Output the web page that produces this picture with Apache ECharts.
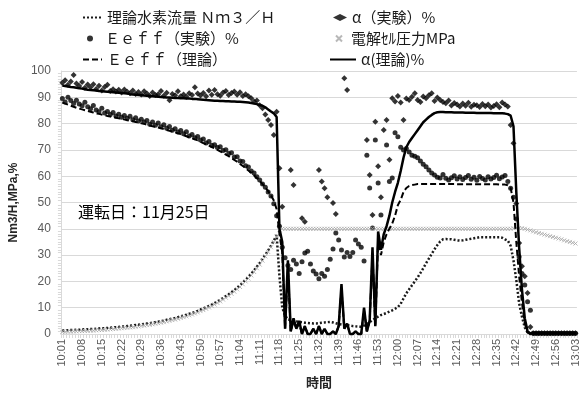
<!DOCTYPE html>
<html><head><meta charset="utf-8">
<script src="https://cdn.jsdelivr.net/npm/echarts@6/dist/echarts.min.js"></script>
<style>html,body{margin:0;padding:0;background:#fff}#c{width:581px;height:394px}</style>
</head><body><div id="c"></div>
<script>
// Time axis: one sample per minute from 10:01 to 13:03
const startTime = '10:01';
const sampleCount = 183;
const yTicks = [0,10,20,30,40,50,60,70,80,90,100];

const flowTheory = [
1.3,1.4,1.4,1.5,1.5,1.6,1.6,1.7,1.8,1.8,
1.9,1.9,2.0,2.1,2.2,2.2,2.3,2.4,2.5,2.6,
2.7,2.8,2.9,3.0,3.1,3.3,3.4,3.5,3.7,3.8,
4.0,4.1,4.3,4.5,4.7,4.9,5.1,5.4,5.6,5.9,
6.1,6.4,6.7,7.0,7.3,7.7,8.0,8.4,8.8,9.3,
9.7,10.2,10.7,11.2,11.8,12.4,13.0,13.7,14.4,15.1,
15.9,16.7,17.6,18.5,19.5,20.6,21.7,22.9,24.2,25.6,
27.0,28.5,30.1,31.8,33.6,35.5,37.6,22.0,10.0,7.0,
5.5,5.3,5.0,4.8,4.6,4.5,4.3,4.2,4.1,4.0,
4.0,4.1,4.3,4.4,4.5,4.6,4.4,4.1,3.8,3.6,
3.4,3.4,3.2,3.0,2.9,2.8,2.8,3.2,3.8,4.5,
5.3,6.0,6.6,7.2,7.6,8.0,8.5,9.0,9.6,10.2,
11.5,13.5,15.5,17.0,18.5,20.0,21.5,23.2,25.0,26.9,
28.7,30.5,32.2,33.8,35.2,36.0,36.1,36.0,36.0,35.8,
35.6,35.5,35.6,35.8,36.0,36.2,36.4,36.6,36.8,36.8,
36.8,36.8,36.8,36.8,36.8,36.8,36.6,36.0,35.5,33.5,
28.0,20.5,11.7,6.6,2.5,0.5,0,0,0,0,
0,0,0,0,0,0,0,0,0,0,
0,0,0];

const pressure = [
0.8,0.8,0.9,0.9,1.0,1.0,1.1,1.1,1.2,1.2,
1.3,1.3,1.4,1.5,1.5,1.6,1.7,1.8,1.9,2.0,
2.1,2.2,2.3,2.4,2.5,2.6,2.8,2.9,3.1,3.2,
3.4,3.5,3.7,3.9,4.1,4.3,4.5,4.8,5.0,5.3,
5.5,5.8,6.1,6.4,6.7,7.1,7.4,7.8,8.2,8.7,
9.1,9.6,10.1,10.6,11.2,11.8,12.4,13.1,13.8,14.5,
15.3,16.1,17.0,17.9,18.9,20.0,21.1,22.3,23.6,25.0,
26.4,27.9,29.5,31.2,33.0,35.0,37.2,39.5,40,40,
40,40,40,40,40,40,40,40,40,40,
40,40,40,40,40,40,40,40,40,40,
40,40,40,40,40,40,40,40,40,40,
40,40,40,40,40,40,40,40,40,40,
40,40,40,40,40,40,40,40,40,40,
40,40,40,40,40,40,40,40,40,40,
40,40,40,40,40,40,40,40,40,40,
40,40,40,40,40,40,40,40,40,40,
40.2,40.3,40.3,40.2,40.0,39.7,39.4,39.0,38.7,38.4,
38.1,37.8,37.5,37.2,36.9,36.6,36.3,36.0,35.6,35.3,
35.0,34.7,34.4];

const alphaTheory = [
94.5,94.3,94.1,93.9,93.8,93.6,93.4,93.3,93.1,92.9,
92.8,92.7,92.6,92.4,92.3,92.2,92.1,92.0,91.9,91.8,
91.7,91.6,91.5,91.4,91.2,91.1,91.0,90.9,90.8,90.7,
90.6,90.5,90.4,90.3,90.2,90.1,90.0,89.9,89.9,89.8,
89.7,89.7,89.6,89.6,89.5,89.5,89.4,89.4,89.3,89.2,
89.1,89.0,88.9,88.8,88.7,88.7,88.6,88.6,88.5,88.5,
88.4,88.4,88.3,88.3,88.2,88.1,88.0,87.8,87.6,87.4,
87.1,86.8,86.2,85.4,84.6,83.9,82.5,40.0,35.0,2.0,
28.0,1.0,6.0,2.0,5.0,0.0,3.0,0.0,0.0,2.0,
0.0,3.0,0.0,2.0,0.0,0.0,1.0,0.0,3.0,19.0,
2.0,4.0,0.0,0.0,1.0,0.0,0.0,10.0,1.0,5.0,
33.0,3.0,39.0,32.0,38.0,41.0,45.0,50.0,54.0,57.5,
62.0,67.0,71.0,73.0,74.5,76.0,77.5,79.0,80.5,81.5,
82.5,83.3,84.0,84.3,84.4,84.4,84.3,84.3,84.3,84.2,
84.2,84.2,84.2,84.1,84.1,84.1,84.1,84.0,84.0,84.0,
84.0,84.0,84.0,83.9,83.9,83.9,83.9,83.8,83.6,83.0,
79.0,54.0,33.0,17.0,6.0,1.0,0.2,0.2,0.2,0.2,
0.2,0.2,0.2,0.2,0.2,0.2,0.2,0.2,0.2,0.2,
0.2,0.2,0.2];

const eeffTheory = [
88.0,87.6,87.2,86.8,86.4,86.0,85.7,85.4,85.1,84.8,
84.5,84.2,83.9,83.7,83.4,83.2,82.9,82.7,82.5,82.2,
82.0,81.8,81.6,81.3,81.1,80.9,80.6,80.4,80.1,79.9,
79.6,79.3,79.0,78.8,78.5,78.2,77.9,77.6,77.3,77.0,
76.7,76.3,76.0,75.6,75.2,74.8,74.4,74.0,73.6,73.1,
72.6,72.1,71.6,71.1,70.6,70.0,69.4,68.8,68.2,67.6,
66.9,66.2,65.5,64.7,63.9,63.1,62.2,61.3,60.3,59.3,
58.2,57.0,55.7,54.3,52.7,50.8,47.5,38.0,31.0,2.0,
25.0,1.0,5.0,2.0,4.0,0.0,3.0,0.0,0.0,2.0,
0.0,3.0,0.0,2.0,0.0,0.0,1.0,0.0,3.0,17.0,
2.0,4.0,0.0,0.0,1.0,0.0,0.0,9.0,1.0,5.0,
30.0,3.0,36.0,30.0,35.0,38.0,40.0,42.0,45.0,49.0,
51.0,54.0,55.5,56.3,56.6,56.8,57.0,57.0,57.0,57.0,
57.0,57.0,57.0,57.0,57.0,57.0,57.0,57.0,57.0,57.0,
56.9,56.9,56.9,56.9,56.9,56.9,56.9,56.9,56.9,56.9,
56.9,56.9,56.9,56.9,56.9,56.8,56.8,56.8,56.6,55.5,
50.0,35.0,22.0,12.0,4.0,0.5,0.2,0.2,0.2,0.2,
0.2,0.2,0.2,0.2,0.2,0.2,0.2,0.2,0.2,0.2,
0.2,0.2,0.2];

const alphaExp = [
95.5,96.5,94.8,96.0,98.5,95.2,94.3,95.8,93.6,94.9,
93.8,95.0,93.2,94.4,92.6,93.9,94.8,92.4,93.1,92.2,
92.9,91.8,93.0,92.1,91.5,92.6,91.3,92.0,91.1,92.3,
91.4,90.5,91.8,90.9,91.2,92.4,90.6,91.7,88.9,91.3,
90.8,92.3,90.4,91.1,90.2,91.5,90.9,93.8,91.4,90.7,
91.6,90.4,92.6,91.0,92.8,91.2,90.6,91.8,92.4,90.9,
91.6,92.2,91.0,91.9,90.5,91.2,90.4,89.6,88.4,88.8,
87.0,85.8,83.5,81.4,79.5,75.7,84.5,63.0,48.4,null,
null,62.4,56.7,null,null,44.0,42.7,null,null,null,
null,62.4,58.0,55.4,52.0,null,49.8,45.6,null,null,
97.2,92.8,null,null,null,null,null,null,73.8,60.5,
45.2,80.7,63.8,52.0,77.6,81.4,66.3,89.6,88.4,90.5,
88.0,81.4,89.5,89.0,90.2,91.5,89.0,88.2,90.3,89.6,
90.8,91.5,88.6,89.9,89.0,88.2,87.7,88.8,86.9,87.8,
87.3,86.5,87.6,86.8,87.9,86.4,87.2,87.0,86.3,87.5,
86.6,87.3,86.1,86.7,87.4,86.2,88.0,87.3,86.5,79.5,
72.5,49.6,34.6,25.8,22.0,15.6,2.7,0.3,0.3,0.3,
0.3,0.3,0.3,0.3,0.3,0.3,0.3,0.3,0.3,0.3,
0.3,0.3,0.3];

const eeffExp = [
89.5,88.2,90.0,88.8,87.6,88.9,87.5,86.8,88.1,86.4,
85.6,86.9,85.2,84.5,85.8,84.0,84.6,83.5,84.2,82.9,
83.6,82.4,83.1,82.0,82.8,81.5,82.2,81.0,81.7,80.6,
81.2,79.8,80.6,79.4,80.2,78.8,79.6,78.2,78.9,77.5,
78.0,76.8,77.4,76.1,76.9,75.3,75.9,74.6,75.1,73.8,
74.1,72.6,73.2,71.8,72.0,70.9,71.2,69.8,70.1,68.6,
68.9,67.3,67.4,65.8,65.6,64.0,63.5,62.0,61.2,59.8,
58.6,57.0,55.8,54.0,52.5,49.5,45.0,41.0,33.0,29.0,
26.0,24.5,28.0,26.6,23.0,27.5,30.8,31.5,26.6,24.0,
22.8,21.0,23.0,22.0,24.5,28.4,32.3,38.4,35.7,31.9,
29.3,31.0,29.5,31.0,35.7,34.2,33.0,27.8,68.0,55.5,
40.3,73.8,57.4,45.2,null,71.9,58.0,59.3,76.5,75.0,
71.0,70.0,70.5,69.2,68.0,67.6,67.0,65.8,64.5,63.6,
62.4,61.2,60.5,59.6,59.3,60.6,59.2,58.6,59.4,60.2,
58.9,59.8,58.7,59.5,60.3,58.8,59.6,58.5,59.9,59.1,
58.6,59.8,58.9,59.5,60.4,59.0,59.7,60.3,58.0,55.4,
52.0,43.7,29.4,23.0,18.6,12.3,9.0,0.3,0.3,0.3,
0.3,0.3,0.3,0.3,0.3,0.3,0.3,0.3,0.3,0.3,
0.3,0.3,0.3];

const names = {
  flow: '理論水素流量 Ｎｍ３／Ｈ',
  alphaExp: 'α（実験）%',
  eeffExp: 'Ｅｅｆｆ（実験）%',
  pressure: '電解ｾﾙ圧力MPa',
  eeffTheory: 'Ｅｅｆｆ（理論）',
  alphaTheory: 'α(理論)%'
};

// build category labels (time of day)
const categories = [];
(function(){
  const [h0, m0] = startTime.split(':').map(Number);
  for (let k = 0; k < sampleCount; k++) {
    const t = h0 * 60 + m0 + k;
    const h = Math.floor(t / 60), m = t % 60;
    categories.push(h + ':' + (m < 10 ? '0' : '') + m);
  }
})();

const JP = "'Noto Sans CJK JP', 'Noto Sans', sans-serif";
const NUM = "'Liberation Sans', 'Noto Sans', sans-serif";
function lg(name, left, top, w, h, isLine) {
  const o = { data: [name], left: left, top: top, itemWidth: w, itemHeight: h, padding: 0,
    selectedMode: false, textStyle: { fontSize: 15, color: '#1a1a1a', fontFamily: JP } };
  if (isLine) o.itemStyle = { opacity: 0 };
  return o;
}

const chart = echarts.init(document.getElementById('c'), null, { renderer: 'canvas' });
chart.setOption({
  animation: false,
  backgroundColor: '#fff',
  grid: { left: 58, right: 3, top: 71, bottom: 60, containLabel: false },
  legend: [
    lg(names.flow, 82, 10, 19, 10, true),
    lg(names.alphaExp, 333, 10, 14, 7),
    lg(names.eeffExp, 87, 31, 20, 6),
    lg(names.pressure, 335, 31, 14, 6),
    lg(names.eeffTheory, 82, 52, 19, 10, true),
    lg(names.alphaTheory, 329, 52, 26, 10, true)
  ],
  xAxis: {
    type: 'category', data: categories, boundaryGap: true,
    name: '時間', nameLocation: 'middle', nameGap: 42,
    nameTextStyle: { fontSize: 13, fontWeight: 'bold', color: '#262626', fontFamily: JP },
    axisLine: { lineStyle: { color: '#d9d9d9' } },
    axisTick: { show: true, interval: 0, length: 4, lineStyle: { color: '#d9d9d9' } },
    axisLabel: { interval: 6, rotate: 90, fontSize: 11, color: '#595959', fontFamily: NUM, margin: 5 },
    splitLine: { show: false }
  },
  yAxis: {
    type: 'value', min: yTicks[0], max: yTicks[yTicks.length - 1], interval: 10,
    name: 'Nm3/H,MPa,%', nameLocation: 'middle', nameGap: 38, nameRotate: 90,
    nameTextStyle: { fontSize: 12, fontWeight: 'bold', color: '#262626', fontFamily: NUM },
    axisLine: { show: true, lineStyle: { color: '#d9d9d9' } },
    axisTick: { show: false },
    minorTick: { show: true, splitNumber: 10, length: 3, lineStyle: { color: '#d9d9d9' } },
    axisLabel: { fontSize: 12, color: '#595959', fontFamily: NUM, margin: 10 },
    splitLine: { lineStyle: { color: '#d9d9d9', width: 1 } }
  },
  graphic: [{
    type: 'text', left: 78, top: 204,
    style: { text: '運転日：11月25日', fontSize: 16, fill: '#000', fontFamily: JP }
  }],
  series: [
    { name: names.flow, type: 'line', data: flowTheory, symbol: 'none', clip: false,
      lineStyle: { color: '#1a1a1a', width: 2.5, type: [2, 2] }, itemStyle: { color: '#1a1a1a' }, z: 2 },
    { name: names.alphaExp, type: 'scatter', data: alphaExp, symbol: 'diamond', symbolSize: 6,
      itemStyle: { color: '#000' }, z: 3 },
    { name: names.eeffExp, type: 'scatter', data: eeffExp, symbol: 'circle', symbolSize: 5,
      itemStyle: { color: '#000' }, z: 3 },
    { name: names.pressure, type: 'scatter', data: pressure, symbol: 'path://M0 0L10 10M10 0L0 10', symbolSize: 4,
      itemStyle: { color: '#a6a6a6', borderColor: '#a6a6a6', borderWidth: 1 }, z: 4 },
    { name: names.eeffTheory, type: 'line', data: eeffTheory, symbol: 'none', clip: false,
      lineStyle: { color: '#000', width: 2, type: [6, 3] }, itemStyle: { color: '#000' }, z: 5 },
    { name: names.alphaTheory, type: 'line', data: alphaTheory, symbol: 'none', clip: false,
      lineStyle: { color: '#000', width: 2.5 }, itemStyle: { color: '#000' }, z: 6 }
  ]
});
</script>
</body></html>
